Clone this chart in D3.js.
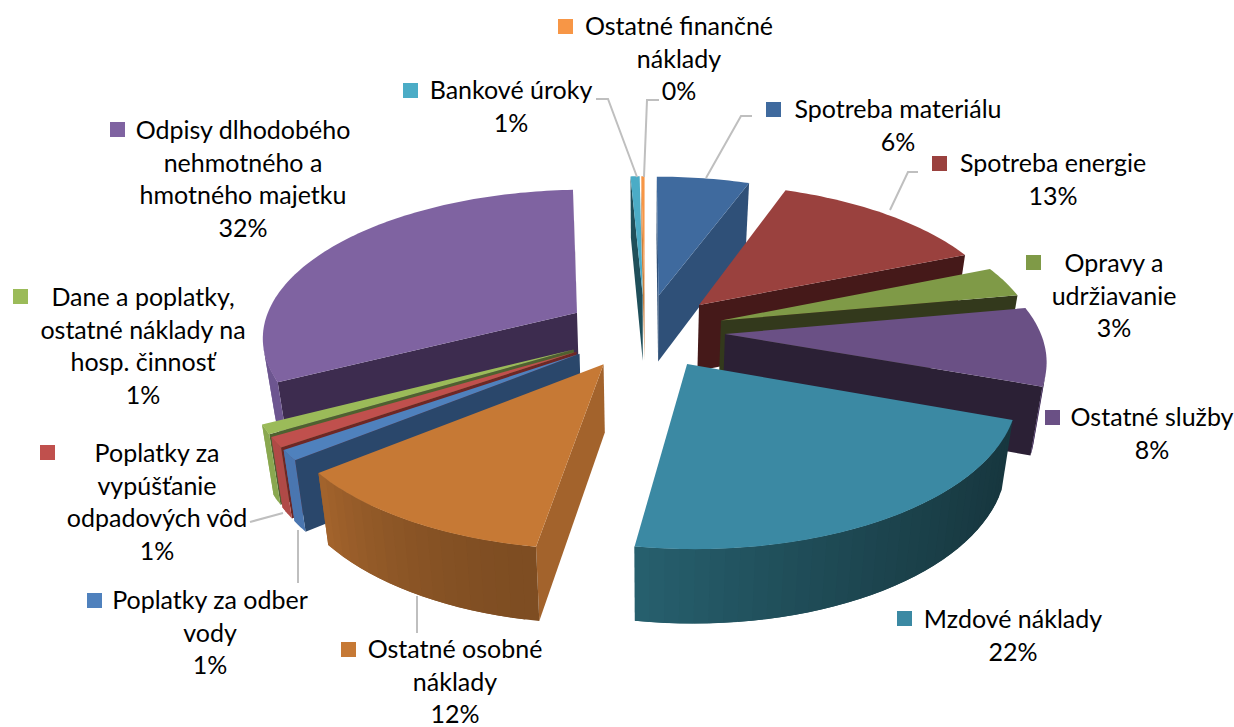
<!DOCTYPE html>
<html>
<head>
<meta charset="utf-8">
<script src="https://cdn.jsdelivr.net/npm/d3@7"></script>
<style>
  html, body { margin: 0; background: #fff; }
  text { font-family: Lato, sans-serif; font-size: 25px; fill: #000; text-anchor: middle; }
</style>
</head>
<body>
<svg width="1234" height="727"></svg>
<script>
// data
var categories = ["Spotreba materiálu", "Spotreba energie", "Opravy a udržiavanie", "Ostatné služby",
    "Mzdové náklady", "Ostatné osobné náklady", "Poplatky za odber vody", "Poplatky za vypúšťanie odpadových vôd",
    "Dane a poplatky, ostatné náklady na hosp. činnosť", "Odpisy dlhodobého nehmotného a hmotného majetku",
    "Bankové úroky", "Ostatné finančné náklady"];
var values = [5.6, 13.2, 3.3, 8.4, 22.0, 11.7, 1.1, 1.1, 1.0, 31.85, 0.55, 0.2];

// how the category names wrap
var labelLines = [
    ["Spotreba materiálu"], ["Spotreba energie"], ["Opravy a", "udržiavanie"], ["Ostatné služby"],
    ["Mzdové náklady"], ["Ostatné osobné", "náklady"], ["Poplatky za odber", "vody"],
    ["Poplatky za", "vypúšťanie", "odpadových vôd"], ["Dane a poplatky,", "ostatné náklady na", "hosp. činnosť"],
    ["Odpisy dlhodobého", "nehmotného a", "hmotného majetku"], ["Bankové úroky"], ["Ostatné finančné", "náklady"]
];

// colours
var topColors = ["#3f6a9e", "#9a413e", "#7f9a47", "#6a5085", "#3b89a3", "#c67935",
    "#4f81bd", "#c0504d", "#9bbb59", "#7f63a1", "#4bacc6", "#f79646"];
var faceColors = ["#2f5078", "#451919", "#33391c", "#2b2035", "#17373f", "#a3632c",
    "#2a476b", "#6e2725", "#4f6130", "#3d2c4f", "#1f4f5a", "#c98040"];
var rimStart = ["#2f5078", "#451919", "#5f7535", "#4d3a63", "#17373f", "#7e4d22",
    "#4a76b0", "#b04a47", "#8aa850", "#6d5690", "#1f4f5a", "#c98040"];
var rimEnd = ["#2f5078", "#451919", "#5f7535", "#4d3a63", "#27616f", "#a5652d",
    "#4a76b0", "#b04a47", "#8aa850", "#6d5690", "#1f4f5a", "#c98040"];

// label layout: centre x of text, first baseline, swatch left and top
var labelPos = [
    [898, 118, 766, 102], [1053, 172, 932, 156], [1114, 272, 1026, 255], [1152, 426, 1045, 410],
    [1013, 628, 897, 611], [455, 658, 341, 642], [210, 609, 87, 593], [157, 462, 40, 445],
    [143, 306, 13, 289], [243, 139, 110, 122], [511, 99, 403, 83], [679, 35, 558, 19]
];
var leaders = [
    [[706, 178], [741, 116], [752, 116]],
    [[890, 210], [908, 172], [918, 172]],
    [[417, 596], [417, 633]],
    [[298, 530], [298, 583]],
    [[283, 513], [250, 522]],
    [[637, 177], [608, 99], [596, 99]],
    [[644, 177], [647, 100], [659, 100]]
];

var svg = d3.select("svg");

// 3d pie settings
var cx = 645, cy = 331;
var radius = 315, explode = 80, tilt = 0.465, dist = 2112, depth = 67;

function project(X, Y, z) {
    var s = dist / (dist + Y);
    var s2 = s * (1 - z * 0.03);
    return [cx + X * s2, cy - Y * tilt * s + z * depth * (1 + (s - 1) * 0.5)];
}

var pie = d3.pie().sort(null).value(function(d) { return d; });
var arcs = pie(values);

var path = d3.line();
function poly(pts) { return path(pts) + "Z"; }
// polygonArea flips sign in screen coords, so flip it back
function area(pts) { return -d3.polygonArea(pts); }

// slices further back get drawn first
var order = d3.range(arcs.length).sort(function(a, b) {
    var ma = (arcs[a].startAngle + arcs[a].endAngle) / 2;
    var mb = (arcs[b].startAngle + arcs[b].endAngle) / 2;
    return Math.cos(mb) - Math.cos(ma);
});

var slices = svg.append("g");

order.forEach(function(i) {
    var a = arcs[i];
    var mid = (a.startAngle + a.endAngle) / 2;
    var ox = explode * Math.sin(mid);
    var oy = explode * Math.cos(mid);

    function pt(ang, z) {
        return project(ox + radius * Math.sin(ang), oy + radius * Math.cos(ang), z);
    }
    var apexTop = project(ox, oy, 0);
    var apexBottom = project(ox, oy, 1);
    var g = slices.append("g");

    // cut faces
    var startFace = [apexTop, pt(a.startAngle, 0), pt(a.startAngle, 1), apexBottom];
    var endFace = [apexTop, pt(a.endAngle, 0), pt(a.endAngle, 1), apexBottom];
    if (area(startFace) < 0) {
        g.append("path").attr("d", poly(startFace)).style("fill", faceColors[i]);
    }
    if (area(endFace) > 0) {
        g.append("path").attr("d", poly(endFace)).style("fill", faceColors[i]);
    }

    // outer wall in strips so the shade can run along it, each strip overlaps the next to hide seams
    var span = a.endAngle - a.startAngle;
    var steps = Math.max(3, Math.ceil(span / 0.04));
    var shade = d3.interpolateRgb(rimStart[i], rimEnd[i]);
    d3.range(steps).forEach(function(k) {
        var a0 = a.startAngle + span * k / steps;
        var a1 = a.startAngle + span * Math.min(k + 2, steps) / steps;
        var quad = [pt(a0, 0), pt(a1, 0), pt(a1, 1), pt(a0, 1)];
        if (area(quad) < 0) {
            g.append("path").attr("d", poly(quad)).style("fill", shade(Math.pow(k / steps, 1.6)));
        }
    });

    // top
    var rim = d3.range(steps * 2 + 1).map(function(k) {
        return pt(a.startAngle + span * k / (steps * 2), 0);
    });
    g.append("path").attr("d", poly([apexTop].concat(rim))).style("fill", topColors[i]);
});

// leader lines
svg.append("g").selectAll("path")
    .data(leaders)
    .enter().append("path")
    .attr("d", function(d) { return path(d); })
    .style("fill", "none")
    .style("stroke", "#bfbfbf")
    .style("stroke-width", 2);

// labels
var labels = svg.append("g").selectAll("g")
    .data(categories)
    .enter().append("g");

labels.append("rect")
    .attr("x", function(d, i) { return labelPos[i][2]; })
    .attr("y", function(d, i) { return labelPos[i][3]; })
    .attr("width", 15)
    .attr("height", 15)
    .style("fill", function(d, i) { return topColors[i]; });

labels.each(function(d, i) {
    var lines = labelLines[i].concat(Math.round(values[i]) + "%");
    d3.select(this).selectAll("text")
        .data(lines)
        .enter().append("text")
        .attr("x", labelPos[i][0])
        .attr("y", function(t, k) { return labelPos[i][1] + k * 32.7; })
        .text(function(t) { return t; });
});
</script>
</body>
</html>
